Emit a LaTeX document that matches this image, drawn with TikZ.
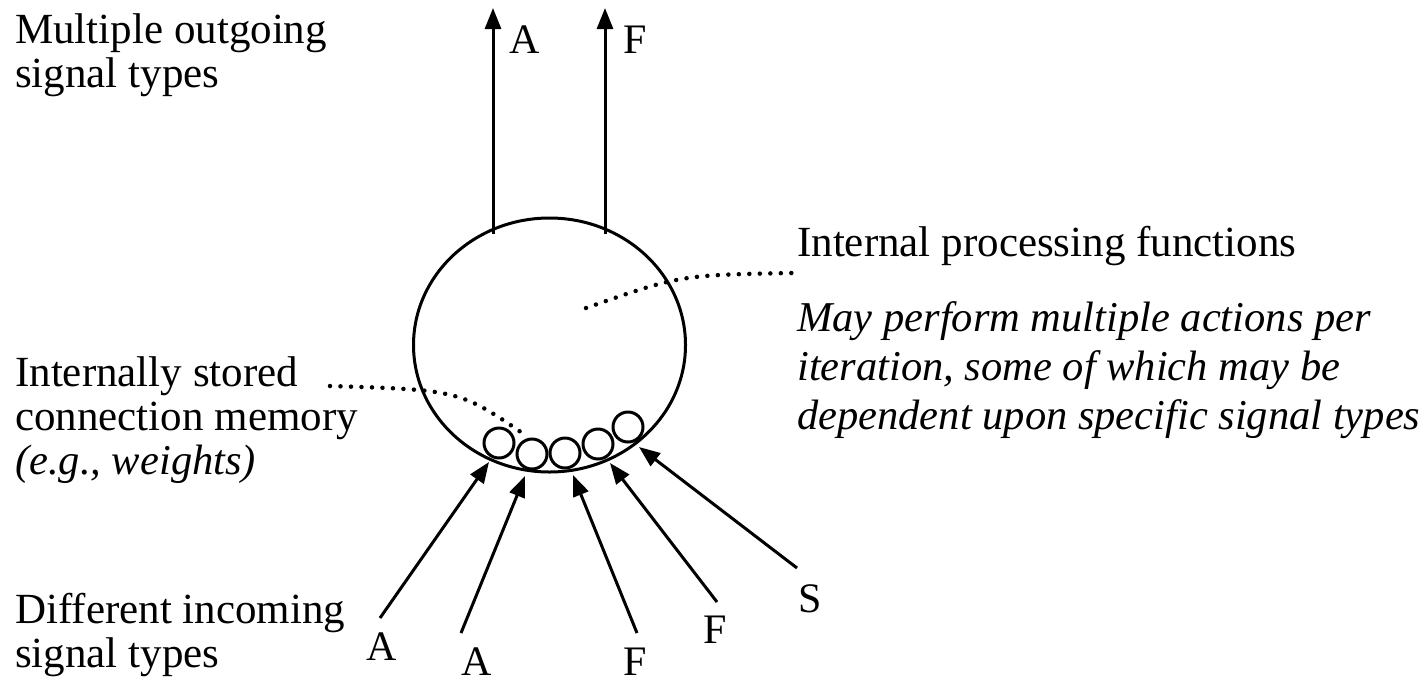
\documentclass[tikz,border=0pt]{standalone}
\usepackage{fontspec}
\setmainfont{Liberation Serif}
\usetikzlibrary{arrows.meta,shapes.geometric}
\begin{document}
\begin{tikzpicture}[x=1pt,y=-1pt,
  lbl/.style={font=\fontsize{43}{45}\selectfont, inner sep=0pt, anchor=base west},
  ilbl/.style={lbl, font=\fontsize{42.5}{45}\selectfont\itshape},
  letter/.style={font=\fontsize{42}{44}\selectfont, inner sep=0pt, anchor=base},
  sig/.style={line width=3pt, -{Triangle[length=21pt,width=16pt]}},
  cell/.style={circle, draw, line width=3pt, minimum size=30pt, inner sep=0pt},
  dots/.style={line width=4.5pt, dash pattern=on 0pt off 10.5pt, line cap=round}
]
\useasboundingbox (0,0) rectangle (1426,686);
% main body
\node[ellipse, draw, line width=3pt, minimum width=272pt, minimum height=254pt, inner sep=0pt] (body) at (549.5,345) {};
% memory cells
\node[cell] (m1) at (499,443) {};
\node[cell] (m2) at (532,454) {};
\node[cell] (m3) at (565,453) {};
\node[cell] (m4) at (598,444) {};
\node[cell] (m5) at (628,427) {};
% outgoing
\coordinate (o1s) at (493,234);
\coordinate (o1e) at (493,8);
\coordinate (o2s) at (605,234);
\coordinate (o2e) at (605,8);
\draw[sig] (o1s) -- (o1e);
\draw[sig] (o2s) -- (o2e);
\node[letter] (la) at (525,53) {A};
\node[letter] (lf) at (635,53) {F};
% incoming
\coordinate (i1) at (380,618);
\coordinate (i2) at (461,633);
\coordinate (i3) at (637,633);
\coordinate (i4) at (717,602);
\coordinate (i5) at (797,568);
\coordinate (t1) at (489,462);
\coordinate (t2) at (525,476);
\coordinate (t3) at (573,475);
\coordinate (t4) at (610,463);
\coordinate (t5) at (639,447);
\draw[sig] (i1) -- (t1);
\draw[sig] (i2) -- (t2);
\draw[sig] (i3) -- (t3);
\draw[sig] (i4) -- (t4);
\draw[sig] (i5) -- (t5);
\node[letter] (b1) at (382,660) {A};
\node[letter] (b2) at (477,675) {A};
\node[letter] (b3) at (635,675) {F};
\node[letter] (b4) at (715,643) {F};
\node[letter] (b5) at (810,612) {S};
% texts
\node[lbl] (out1) at (15,43) {Multiple outgoing};
\node[lbl] (out2) at (15,87) {signal types};
\node[lbl] (proc) at (797,256) {Internal processing functions};
\node[ilbl] (may1) at (797,331) {May perform multiple actions per};
\node[ilbl] (may2) at (797,380) {iteration, some of which may be};
\node[ilbl] (may3) at (797,429) {dependent upon specific signal types};
\node[lbl] (mem1) at (15,386) {Internally stored};
\node[lbl] (mem2) at (15,430) {connection memory};
\node[ilbl] (mem3) at (15,474) {(e.g., weights)};
\node[lbl] (inc1) at (15,623) {Different incoming};
\node[lbl] (inc2) at (15,667) {signal types};
% dotted leaders
\coordinate (d1a) at (330,386);
\coordinate (d1b) at (528,437);
\coordinate (d2a) at (586,308);
\coordinate (d2b) at (793,273);
\draw[dots] (d1a) .. controls (460,390) .. (d1b);
\draw[dots] (d2a) .. controls (680,275) .. (d2b);
\end{tikzpicture}
\end{document}
